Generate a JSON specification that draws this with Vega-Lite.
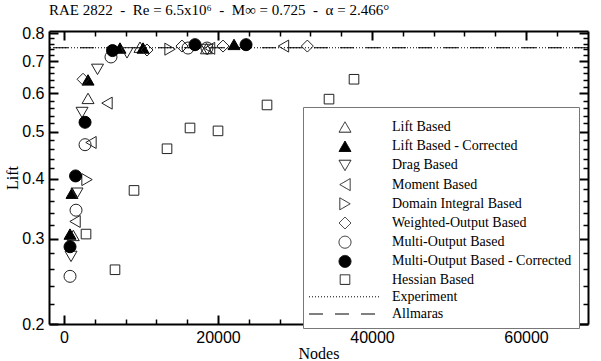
{
  "$schema": "https://vega.github.io/schema/vega-lite/v6.json",
  "width": 539,
  "height": 293,
  "autosize": {"type": "none"},
  "padding": {"left": 49, "top": 31, "right": 13, "bottom": 37},
  "background": "white",
  "title": {
    "text": "RAE 2822\u00a0 -\u00a0 Re = 6.5x10⁶\u00a0 -\u00a0 M∞ = 0.725\u00a0 -\u00a0 α = 2.466°",
    "anchor": "start",
    "frame": "group",
    "font": "Liberation Serif",
    "fontSize": 15,
    "fontWeight": "normal",
    "color": "black",
    "baseline": "alphabetic",
    "offset": 12,
    "dy": 17
  },
  "datasets": {
    "pts": [
      {"series": "Lift Based", "nodes": 1200, "lift": 0.305},
      {"series": "Lift Based", "nodes": 3120, "lift": 0.586},
      {"series": "Lift Based", "nodes": 9870, "lift": 0.748},
      {"series": "Lift Based", "nodes": 18500, "lift": 0.743},
      {"series": "Lift Based - Corrected", "nodes": 780, "lift": 0.307},
      {"series": "Lift Based - Corrected", "nodes": 1040, "lift": 0.373},
      {"series": "Lift Based - Corrected", "nodes": 3120, "lift": 0.640},
      {"series": "Lift Based - Corrected", "nodes": 7270, "lift": 0.745},
      {"series": "Lift Based - Corrected", "nodes": 10260, "lift": 0.745},
      {"series": "Lift Based - Corrected", "nodes": 22080, "lift": 0.758},
      {"series": "Drag Based", "nodes": 910, "lift": 0.276},
      {"series": "Drag Based", "nodes": 1690, "lift": 0.373},
      {"series": "Drag Based", "nodes": 2340, "lift": 0.548},
      {"series": "Drag Based", "nodes": 4350, "lift": 0.673},
      {"series": "Drag Based", "nodes": 8180, "lift": 0.728},
      {"series": "Drag Based", "nodes": 18600, "lift": 0.740},
      {"series": "Moment Based", "nodes": 1430, "lift": 0.326},
      {"series": "Moment Based", "nodes": 3500, "lift": 0.475},
      {"series": "Moment Based", "nodes": 5580, "lift": 0.573},
      {"series": "Moment Based", "nodes": 18900, "lift": 0.744},
      {"series": "Moment Based", "nodes": 28500, "lift": 0.752},
      {"series": "Domain Integral Based", "nodes": 2990, "lift": 0.398},
      {"series": "Domain Integral Based", "nodes": 13770, "lift": 0.741},
      {"series": "Weighted-Output Based", "nodes": 2470, "lift": 0.642},
      {"series": "Weighted-Output Based", "nodes": 10780, "lift": 0.738},
      {"series": "Weighted-Output Based", "nodes": 15320, "lift": 0.752},
      {"series": "Weighted-Output Based", "nodes": 20650, "lift": 0.752},
      {"series": "Weighted-Output Based", "nodes": 31600, "lift": 0.752},
      {"series": "Multi-Output Based", "nodes": 780, "lift": 0.251},
      {"series": "Multi-Output Based", "nodes": 1560, "lift": 0.344},
      {"series": "Multi-Output Based", "nodes": 2730, "lift": 0.470},
      {"series": "Multi-Output Based", "nodes": 6100, "lift": 0.714},
      {"series": "Multi-Output Based", "nodes": 16100, "lift": 0.745},
      {"series": "Multi-Output Based", "nodes": 18570, "lift": 0.745},
      {"series": "Multi-Output Based - Corrected", "nodes": 780, "lift": 0.289},
      {"series": "Multi-Output Based - Corrected", "nodes": 1500, "lift": 0.405},
      {"series": "Multi-Output Based - Corrected", "nodes": 2730, "lift": 0.523},
      {"series": "Multi-Output Based - Corrected", "nodes": 6300, "lift": 0.736},
      {"series": "Multi-Output Based - Corrected", "nodes": 17010, "lift": 0.757},
      {"series": "Multi-Output Based - Corrected", "nodes": 23640, "lift": 0.757},
      {"series": "Hessian Based", "nodes": 6623, "lift": 0.259},
      {"series": "Hessian Based", "nodes": 2857, "lift": 0.307},
      {"series": "Hessian Based", "nodes": 9091, "lift": 0.378},
      {"series": "Hessian Based", "nodes": 13377, "lift": 0.461},
      {"series": "Hessian Based", "nodes": 16364, "lift": 0.509},
      {"series": "Hessian Based", "nodes": 20000, "lift": 0.502},
      {"series": "Hessian Based", "nodes": 26364, "lift": 0.568},
      {"series": "Hessian Based", "nodes": 34416, "lift": 0.584},
      {"series": "Hessian Based", "nodes": 37662, "lift": 0.642}
    ],
    "lines": [
      {"series": "Experiment", "lift": 0.746},
      {"series": "Allmaras", "lift": 0.746}
    ]
  },
  "layer": [
    {
      "data": {"name": "lines"},
      "mark": {"type": "rule", "strokeWidth": 1.2},
      "encoding": {
        "y": {"field": "lift", "type": "quantitative", "scale": {"type": "log", "domain": [0.2, 0.808], "nice": false}, "axis": null},
        "stroke": {
          "field": "series", "type": "nominal",
          "scale": {
            "domain": ["Lift Based", "Lift Based - Corrected", "Drag Based", "Moment Based", "Domain Integral Based", "Weighted-Output Based", "Multi-Output Based", "Multi-Output Based - Corrected", "Hessian Based", "Experiment", "Allmaras"],
            "range": ["#222", "black", "#222", "#222", "#222", "#222", "#222", "black", "#222", "black", "black"]
          },
          "legend": {"orient": "none", "legendX": 254, "legendY": 76, "title": " "}
        },
        "strokeDash": {
          "field": "series", "type": "nominal",
          "scale": {
            "domain": ["Lift Based", "Lift Based - Corrected", "Drag Based", "Moment Based", "Domain Integral Based", "Weighted-Output Based", "Multi-Output Based", "Multi-Output Based - Corrected", "Hessian Based", "Experiment", "Allmaras"],
            "range": [[1, 0], [1, 0], [1, 0], [1, 0], [1, 0], [1, 0], [1, 0], [1, 0], [1, 0], [1, 2], [14, 12]]
          },
          "legend": {"orient": "none", "legendX": 254, "legendY": 76, "title": " "}
        }
      }
    },
    {
      "data": {"name": "pts"},
      "mark": {"type": "point", "opacity": 1, "strokeWidth": 1, "size": 144},
      "encoding": {
        "x": {
          "field": "nodes", "type": "quantitative",
          "scale": {"domain": [-1950, 68050], "nice": false, "zero": false},
          "axis": {"orient": "bottom", "values": [0, 20000, 40000, 60000], "format": "d", "tickSize": -9, "tickWidth": 2, "labelPadding": 14, "title": "Nodes", "titlePadding": 0}
        },
        "y": {
          "field": "lift", "type": "quantitative",
          "scale": {"type": "log", "domain": [0.2, 0.808], "nice": false},
          "axis": {"orient": "left", "values": [0.2, 0.3, 0.4, 0.5, 0.6, 0.7, 0.8], "format": ".1f", "tickSize": -9, "tickWidth": 2, "labelPadding": 14, "title": "Lift", "titlePadding": 1}
        },
        "shape": {
          "field": "series", "type": "nominal",
          "scale": {
            "domain": ["Lift Based", "Lift Based - Corrected", "Drag Based", "Moment Based", "Domain Integral Based", "Weighted-Output Based", "Multi-Output Based", "Multi-Output Based - Corrected", "Hessian Based", "Experiment", "Allmaras"],
            "range": ["triangle-up", "triangle-up", "triangle-down", "triangle-left", "triangle-right", "diamond", "circle", "circle", "M-0.8,-0.8H0.8V0.8H-0.8Z", "M-6,0H6", "M-6,0H6"]
          },
          "legend": {"orient": "none", "legendX": 254, "legendY": 76, "title": " "}
        },
        "fill": {
          "field": "series", "type": "nominal",
          "scale": {
            "domain": ["Lift Based", "Lift Based - Corrected", "Drag Based", "Moment Based", "Domain Integral Based", "Weighted-Output Based", "Multi-Output Based", "Multi-Output Based - Corrected", "Hessian Based", "Experiment", "Allmaras"],
            "range": ["transparent", "black", "transparent", "transparent", "transparent", "transparent", "transparent", "black", "transparent", "transparent", "transparent"]
          },
          "legend": {"orient": "none", "legendX": 254, "legendY": 76, "title": " "}
        },
        "stroke": {
          "field": "series", "type": "nominal",
          "scale": {
            "domain": ["Lift Based", "Lift Based - Corrected", "Drag Based", "Moment Based", "Domain Integral Based", "Weighted-Output Based", "Multi-Output Based", "Multi-Output Based - Corrected", "Hessian Based", "Experiment", "Allmaras"],
            "range": ["#222", "black", "#222", "#222", "#222", "#222", "#222", "black", "#222", "black", "black"]
          },
          "legend": {"orient": "none", "legendX": 254, "legendY": 76, "title": " "}
        }
      }
    },
    {
      "data": {"name": "pts"},
      "mark": {"type": "point", "opacity": 0},
      "encoding": {
        "x": {"field": "nodes", "type": "quantitative", "scale": {"domain": [-1950, 68050], "nice": false, "zero": false},
          "axis": {"orient": "bottom", "values": [4000, 8000, 12000, 16000, 24000, 28000, 32000, 36000, 44000, 48000, 52000, 56000, 64000], "labels": false, "domain": false, "tickSize": -5, "tickWidth": 1.5, "title": null}},
        "y": {"field": "lift", "type": "quantitative", "scale": {"type": "log", "domain": [0.2, 0.808], "nice": false},
          "axis": {"orient": "left", "values": [0.22, 0.24, 0.26, 0.28, 0.32, 0.34, 0.36, 0.38, 0.42, 0.44, 0.46, 0.48, 0.52, 0.54, 0.56, 0.58, 0.62, 0.64, 0.66, 0.68, 0.72, 0.74, 0.76, 0.78], "labels": false, "domain": false, "tickSize": -5, "tickWidth": 1.5, "title": null}}
      }
    },
    {
      "data": {"name": "pts"},
      "mark": {"type": "point", "opacity": 0},
      "encoding": {
        "x": {"field": "nodes", "type": "quantitative", "scale": {"domain": [-1950, 68050], "nice": false, "zero": false},
          "axis": {"orient": "top", "values": [0, 20000, 40000, 60000], "labels": false, "tickSize": -9, "tickWidth": 2, "title": null}},
        "y": {"field": "lift", "type": "quantitative", "scale": {"type": "log", "domain": [0.2, 0.808], "nice": false},
          "axis": {"orient": "right", "values": [0.2, 0.3, 0.4, 0.5, 0.6, 0.7, 0.8], "labels": false, "tickSize": -9, "tickWidth": 2, "title": null}}
      }
    },
    {
      "data": {"name": "pts"},
      "mark": {"type": "point", "opacity": 0},
      "encoding": {
        "x": {"field": "nodes", "type": "quantitative", "scale": {"domain": [-1950, 68050], "nice": false, "zero": false},
          "axis": {"orient": "top", "values": [4000, 8000, 12000, 16000, 24000, 28000, 32000, 36000, 44000, 48000, 52000, 56000, 64000], "labels": false, "domain": false, "tickSize": -5, "tickWidth": 1.5, "title": null}},
        "y": {"field": "lift", "type": "quantitative", "scale": {"type": "log", "domain": [0.2, 0.808], "nice": false},
          "axis": {"orient": "right", "values": [0.22, 0.24, 0.26, 0.28, 0.32, 0.34, 0.36, 0.38, 0.42, 0.44, 0.46, 0.48, 0.52, 0.54, 0.56, 0.58, 0.62, 0.64, 0.66, 0.68, 0.72, 0.74, 0.76, 0.78], "labels": false, "domain": false, "tickSize": -5, "tickWidth": 1.5, "title": null}}
      }
    }
  ],
  "resolve": {"axis": {"x": "independent", "y": "independent"}},
  "config": {
    "view": {"stroke": null},
    "axis": {
      "domainColor": "black", "domainWidth": 2, "tickColor": "black",
      "labelColor": "black", "labelFont": "Liberation Sans", "labelFontSize": 16,
      "titleColor": "black", "titleFont": "Liberation Serif", "titleFontSize": 16, "titleFontWeight": "normal",
      "grid": false
    },
    "legend": {
      "fillColor": "white", "strokeColor": "#777", "padding": 7,
      "labelFont": "Liberation Serif", "labelFontSize": 14, "labelColor": "black", "labelLimit": 300,
      "symbolSize": 144, "symbolStrokeWidth": 1,
      "symbolOffset": 28, "labelOffset": 40, "rowPadding": 3.2,
      "titleFontSize": 6, "titlePadding": 0
    }
  }
}
